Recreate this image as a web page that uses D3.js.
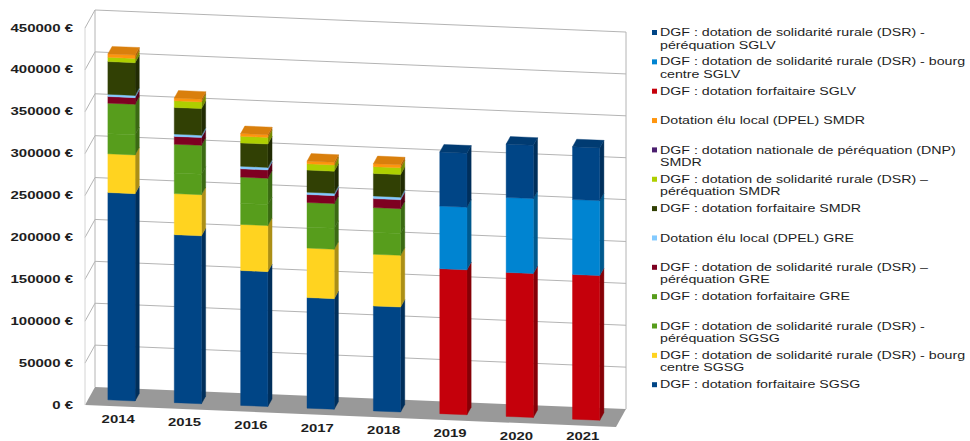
<!DOCTYPE html>
<html>
<head>
<meta charset="utf-8">
<script src="https://cdn.jsdelivr.net/npm/d3@7"></script>
<style>
  body { margin: 0; background: #fff; }
  svg { display: block; }
  text { font-family: 'Liberation Sans', Arial, sans-serif; fill: #1e1e1e; }
</style>
</head>
<body>
<div id="chart"></div>
<script>
const years = ['2014', '2015', '2016', '2017', '2018', '2019', '2020', '2021']
const yTicks = [0, 50000, 100000, 150000, 200000, 250000, 300000, 350000, 400000, 450000]

// series, from the bottom of the stack to the top
const forfaitaireSGSG = [247500, 200500, 161000, 132000, 125300, 0, 0, 0]
const bourgCentreSGSG = [46200, 49000, 55000, 59000, 61700, 0, 0, 0]
const perequationSGSG = [24000, 24500, 25000, 25000, 26000, 0, 0, 0]
const forfaitaireGRE = [36500, 34500, 31500, 29500, 29700, 0, 0, 0]
const perequationGRE = [7900, 9300, 9900, 9500, 10700, 0, 0, 0]
const dpelGRE = [2700, 2700, 3000, 2800, 3100, 0, 0, 0]
const forfaitaireSMDR = [39000, 31800, 27900, 26300, 27000, 0, 0, 0]
const perequationSMDR = [5100, 8000, 7900, 7500, 8000, 0, 0, 0]
const dnpSMDR = [0, 0, 0, 0, 0, 0, 0, 0]
const dpelSMDR = [4000, 3200, 3200, 3200, 3600, 0, 0, 0]
const forfaitaireSGLV = [0, 0, 0, 0, 0, 173000, 171900, 172700]
const bourgCentreSGLV = [0, 0, 0, 0, 0, 74800, 89500, 89500]
const perequationSGLV = [0, 0, 0, 0, 0, 64500, 63600, 62900]

const seriesValues = [forfaitaireSGSG, bourgCentreSGSG, perequationSGSG, forfaitaireGRE, perequationGRE,
  dpelGRE, forfaitaireSMDR, perequationSMDR, dnpSMDR, dpelSMDR, forfaitaireSGLV, bourgCentreSGLV, perequationSGLV]

const seriesNames = [
  ['DGF : dotation forfaitaire SGSG'],
  ['DGF : dotation de solidarité rurale (DSR)  - bourg', 'centre SGSG'],
  ['DGF : dotation de solidarité rurale (DSR)  -', 'péréquation SGSG'],
  ['DGF : dotation forfaitaire GRE'],
  ['DGF : dotation de solidarité rurale (DSR) –', 'péréquation GRE'],
  ['Dotation élu local (DPEL) GRE'],
  ['DGF : dotation forfaitaire SMDR'],
  ['DGF : dotation de solidarité rurale (DSR) –', 'péréquation SMDR'],
  ['DGF : dotation nationale de péréquation (DNP)', 'SMDR'],
  ['Dotation élu local (DPEL) SMDR'],
  ['DGF : dotation forfaitaire SGLV'],
  ['DGF : dotation de solidarité rurale (DSR)  - bourg', 'centre SGLV'],
  ['DGF : dotation de solidarité rurale (DSR) -', 'péréquation SGLV']
]

const seriesColors = ['#004586', '#ffd320', '#579d1c', '#579d1c', '#7e0021', '#83caff', '#314004',
  '#aecf00', '#4b1f6f', '#ff950e', '#c5000b', '#0084d1', '#004586']

const width = 970, height = 441
const svg = d3.select('#chart').append('svg').attr('width', width).attr('height', height)

// front-plane scales
const x = d3.scaleBand().domain(years).range([85, 616]).paddingInner(0.59).paddingOuter(0.295)
const y = d3.scaleLinear().domain([0, 450000]).range([0, 377])

// oblique projection: xi along the front, z in depth (0 front, 1 back wall), v value
const slope = 0.0415, depthX = 10, depthY = 18
const proj = (xi, z, v) => [xi + z * depthX, 405 + slope * (xi - 85) - z * depthY - y(v)]
const poly = (pts) => pts.map((p) => p.join(',')).join(' ')

const xLeft = 85, xRight = 616

// floor
svg.append('polygon')
  .attr('points', poly([proj(xLeft, 0, 0), proj(xLeft, 1, 0), proj(xRight, 1, 0), proj(xRight, 0, 0)]))
  .attr('fill', '#999999')

// walls and grid
const grid = svg.append('g').attr('stroke', '#b4b4b4').attr('stroke-width', 1).attr('fill', 'none')
yTicks.forEach((t) => {
  if (t > 0) {
    grid.append('polyline').attr('points', poly([proj(xLeft, 0, t), proj(xLeft, 1, t), proj(xRight, 1, t)]))
  }
})
grid.append('line')
  .attr('x1', proj(xLeft, 1, 0)[0]).attr('y1', proj(xLeft, 1, 0)[1])
  .attr('x2', proj(xLeft, 1, 450000)[0]).attr('y2', proj(xLeft, 1, 450000)[1])
grid.append('line')
  .attr('x1', proj(xLeft, 0, 0)[0]).attr('y1', proj(xLeft, 0, 0)[1])
  .attr('x2', proj(xLeft, 0, 450000)[0]).attr('y2', proj(xLeft, 0, 450000)[1])
  .attr('stroke', '#d4d4d4')
grid.append('line')
  .attr('x1', proj(xRight, 1, 0)[0]).attr('y1', proj(xRight, 1, 0)[1])
  .attr('x2', proj(xRight, 1, 450000)[0]).attr('y2', proj(xRight, 1, 450000)[1])

// y axis labels
const fmt = (d) => d + ' €'
svg.append('g').selectAll('text')
  .data(yTicks)
  .join('text')
  .attr('transform', (d) => 'translate(73,' + (proj(xLeft, 0, d)[1] + 3.6) + ') scale(1.5,1)')
  .attr('text-anchor', 'end')
  .attr('font-size', 10)
  .attr('font-weight', 'bold')
  .text(fmt)

// year labels
svg.append('g').selectAll('text')
  .data(years)
  .join('text')
  .attr('transform', (d) => {
    const cx = x(d) + x.bandwidth() / 2
    return 'translate(' + cx + ',' + Math.min(proj(cx, 0, 0)[1] + 17, 439.5) + ') scale(1.42,1)'
  })
  .attr('text-anchor', 'middle')
  .attr('font-size', 10.5)
  .attr('font-weight', 'bold')
  .text((d) => d)

// stacked 3d bars
const table = years.map((yr, i) => {
  const row = { year: yr }
  seriesValues.forEach((s, k) => (row['s' + k] = s[i]))
  return row
})
const keys = seriesValues.map((s, k) => 's' + k)
const stacked = d3.stack().keys(keys)(table)

const zf = 0.33, zb = 0.75
const bars = svg.append('g')
years.forEach((yr, i) => {
  const x0 = x(yr), x1 = x(yr) + x.bandwidth()
  const g = bars.append('g')
  let topLayer = -1
  stacked.forEach((layer, k) => {
    const d = layer[i]
    if (d[1] - d[0] <= 0) return
    topLayer = k
    const c = seriesColors[k]
    g.append('polygon')
      .attr('points', poly([proj(x1, zf, d[0]), proj(x1, zb, d[0]), proj(x1, zb, d[1]), proj(x1, zf, d[1])]))
      .attr('fill', d3.color(c).darker(1.1))
      .attr('stroke', d3.color(c).darker(1.1)).attr('stroke-width', 0.4)
    g.append('polygon')
      .attr('points', poly([proj(x0, zf, d[0]), proj(x1, zf, d[0]), proj(x1, zf, d[1]), proj(x0, zf, d[1])]))
      .attr('fill', c)
      .attr('stroke', c).attr('stroke-width', 0.4)
  })
  if (topLayer >= 0) {
    const top = stacked[topLayer][i][1]
    const c = d3.color(seriesColors[topLayer]).darker(0.45)
    g.append('polygon')
      .attr('points', poly([proj(x0, zf, top), proj(x1, zf, top), proj(x1, zb, top), proj(x0, zb, top)]))
      .attr('fill', c).attr('stroke', c).attr('stroke-width', 0.4)
  }
})

// legend, top entry is the top of the stack
const legend = svg.append('g')
const order = d3.range(seriesNames.length).reverse()
order.forEach((k, r) => {
  const cy = 32.5 + r * 29.35
  legend.append('rect')
    .attr('x', 652).attr('y', cy - 2.5).attr('width', 5).attr('height', 5)
    .attr('fill', seriesColors[k])
  seriesNames[k].forEach((line, j) => {
    legend.append('text')
      .attr('transform', 'translate(660,' + (cy + 3.6 + j * 12.4) + ') scale(1.42,1)')
      .attr('font-size', 10)
      .text(line)
  })
})
</script>
</body>
</html>
